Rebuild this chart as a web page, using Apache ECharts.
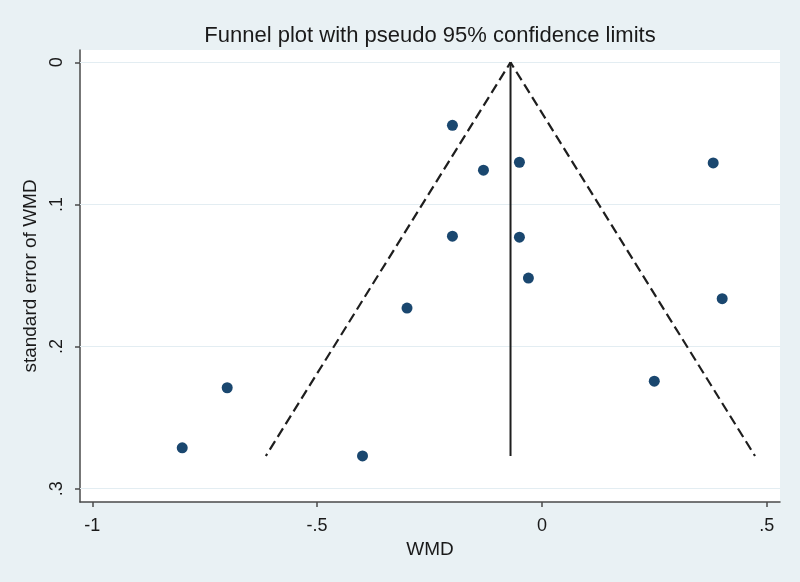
<!DOCTYPE html>
<html>
<head>
<meta charset="utf-8">
<script src="https://cdn.jsdelivr.net/npm/echarts@6/dist/echarts.min.js"></script>
<style>
html,body{margin:0;padding:0;background:#e9f1f4;}
#c{width:800px;height:582px;}
</style>
</head>
<body>
<div id="c"></div>
<script>
// Study-level data
const wmd = [-0.199, -0.130, -0.050, 0.381, -0.199, -0.050, -0.030, -0.300, 0.401, -0.700, 0.250, -0.800, -0.399];
const seWmd = [0.0443, 0.0759, 0.0703, 0.0708, 0.1223, 0.1230, 0.1518, 0.1729, 0.1663, 0.2290, 0.2244, 0.2713, 0.2770];

// Pooled estimate line and pseudo 95% limits (end points)
const pooledX = [-0.0698, -0.0698];
const limitSE = [0, 0.277];
const lowerLimitX = [-0.0698, -0.614];
const upperLimitX = [-0.0698, 0.474];

// Axis ticks
const xTicks = [-1, -0.5, 0, 0.5];
const yTicks = [0, 0.1, 0.2, 0.3];

const fmt = v => {
  if (Math.abs(v) < 1e-9) return '0';
  let s = String(Math.round(v * 10) / 10);
  return s.replace(/^(-?)0\./, '$1.');
};

const pts = wmd.map((x, i) => [x, seWmd[i]]);
const pair = (xs, ys) => xs.map((x, i) => [x, ys[i]]);

const chart = echarts.init(document.getElementById('c'), null, {renderer: 'canvas'});
const axisCol = '#4a4a4a';
const dashStyle = {color: '#1e1e1e', width: 2.2, type: [10, 5], dashOffset: 4};
chart.setOption({
  backgroundColor: '#e9f1f4',
  animation: false,
  textStyle: {fontFamily: 'Liberation Sans, Arial, sans-serif'},
  title: {
    text: 'Funnel plot with pseudo 95% confidence limits',
    left: 425, top: 20, textAlign: 'center',
    textStyle: {fontSize: 22, fontWeight: 'normal', color: '#1a1a1a', fontFamily: 'Liberation Sans, Arial, sans-serif'}
  },
  grid: {left: 80, right: 20, top: 50, bottom: 80, show: true, backgroundColor: '#ffffff', borderWidth: 0, containLabel: false},
  xAxis: {
    type: 'value', min: -1.0274, max: 0.5296, position: 'bottom',
    name: 'WMD', nameLocation: 'middle', nameGap: 35,
    nameTextStyle: {fontSize: 19, color: '#1a1a1a'},
    axisLine: {show: true, onZero: false, lineStyle: {color: axisCol, width: 1.5}},
    axisTick: {show: true, length: 5, customValues: xTicks, lineStyle: {color: axisCol, width: 1.5}},
    axisLabel: {customValues: xTicks, formatter: fmt, fontSize: 18, color: '#1a1a1a', margin: 15},
    splitLine: {show: false}
  },
  yAxis: {
    type: 'value', min: -0.0087, max: 0.3094, inverse: true,
    name: 'standard error of WMD', nameLocation: 'middle', nameGap: 38,
    nameTextStyle: {fontSize: 19, color: '#1a1a1a'},
    axisLine: {show: true, onZero: false, lineStyle: {color: axisCol, width: 1.5}},
    axisTick: {show: true, length: 5, customValues: yTicks, lineStyle: {color: axisCol, width: 1.5}},
    axisLabel: {customValues: yTicks, formatter: fmt, fontSize: 18, color: '#1a1a1a', rotate: 90, margin: 14},
    splitLine: {show: false}
  },
  series: [
    {
      type: 'line', data: pair(lowerLimitX, limitSE), symbol: 'none', z: 3,
      lineStyle: dashStyle,
      markLine: {
        silent: true, symbol: 'none', label: {show: false}, z: 1,
        lineStyle: {color: '#e3edf2', width: 1, type: 'solid'},
        data: yTicks.map(v => ({yAxis: v}))
      }
    },
    {
      type: 'line', data: pair(upperLimitX, limitSE), symbol: 'none', z: 3,
      lineStyle: dashStyle
    },
    {
      type: 'line', data: pair(pooledX, limitSE), symbol: 'none', z: 3,
      lineStyle: {color: '#1e1e1e', width: 2, type: 'solid'}
    },
    {
      type: 'scatter', data: pts, symbol: 'circle', symbolSize: 11, z: 5,
      itemStyle: {color: '#1a476f', opacity: 1}
    }
  ]
});
</script>
</body>
</html>
